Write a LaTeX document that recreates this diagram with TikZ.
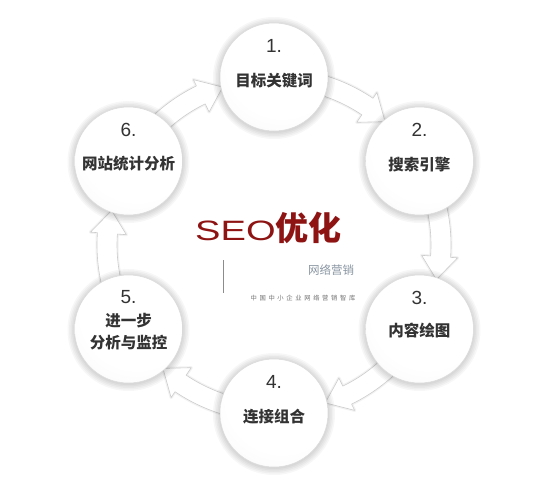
\documentclass[tikz,border=0pt]{standalone}
\usepackage{fontspec}
\setmainfont{Liberation Sans}
\newfontfamily\cjk{Noto Sans CJK SC}
\newfontfamily\cjksp{Noto Sans CJK SC}[LetterSpace=42]
\definecolor{txt}{HTML}{333333}
\definecolor{seored}{HTML}{8E1414}
\definecolor{subgray}{HTML}{8A96A3}
\pgfdeclareradialshading{sphere}{\pgfpoint{6bp}{12bp}}{%
  color(0bp)=(white); color(26bp)=(white); color(46bp)=(black!4);
  color(56bp)=(black!8); color(70bp)=(black!10)}
\tikzset{
  ball/.style={circle, minimum size=108pt, inner sep=0pt, shading=sphere,
    draw=black!14, line width=0.5pt},
  glow/.style={fill=black, opacity=0.03},
  num/.style={font=\fontsize{19}{20}\selectfont, text=txt, inner sep=0pt},
  lbl/.style={font=\cjk\bfseries\fontsize{15.5}{22}\selectfont, text=txt, inner sep=0pt, align=center},
  ringarrow/.style={fill=white, draw=black!20, line width=0.6pt, line join=round},
  ringhalo/.style={draw=black!5, line width=3pt, line join=round}
}
\newcommand\arrowpath[3]{([shift={(C)}]#1:177) arc[start angle=#1, end angle=#2, radius=177]
    -- ([shift={(C)}]#2:184) -- ([shift={(C)}]#3:166) -- ([shift={(C)}]#2:148)
    -- ([shift={(C)}]#2:157) arc[start angle=#2, end angle=#1, radius=157] -- cycle}
\newcommand\ringarrow[3]{%
  \path[ringhalo] \arrowpath{#1}{#2}{#3};
  \path[ringarrow] \arrowpath{#1}{#2}{#3};}
\begin{document}
\begin{tikzpicture}[x=1pt, y=1pt]
\useasboundingbox[fill=white] (0,0) rectangle (543,491);
\coordinate (C) at (274,246);
% arrows (drawn first, circles cover their tails)
\ringarrow{80}{56}{48}
\ringarrow{20}{-4}{-12}
\ringarrow{-40}{-64}{-72}
\ringarrow{-100}{-124}{-132}
\ringarrow{200}{176}{168}
\ringarrow{140}{116}{108}
% glow under the circles
\foreach \a in {90,30,-30,-90,210,150}{
  \foreach \r in {55,56.5,58,59.5,61}{
    \fill[glow] ([shift={(C)},yshift=-1pt]\a:168) circle[radius=\r];
  }
}
% circles
\node[ball] (c1) at ([shift={(C)}]90:168) {};
\node[ball] (c2) at ([shift={(C)}]30:168) {};
\node[ball] (c3) at ([shift={(C)}]-30:168) {};
\node[ball] (c4) at ([shift={(C)}]-90:168) {};
\node[ball] (c5) at ([shift={(C)}]210:168) {};
\node[ball] (c6) at ([shift={(C)}]150:168) {};
% texts
\node[num] (n1) at ([yshift=31pt]c1.center) {1.};
\node[lbl] (l1) at ([yshift=-4pt]c1.center) {目标关键词};
\node[num] (n2) at ([yshift=31pt]c2.center) {2.};
\node[lbl] (l2) at ([yshift=-4pt]c2.center) {搜索引擎};
\node[num] (n3) at ([yshift=31pt]c3.center) {3.};
\node[lbl] (l3) at ([yshift=-2pt]c3.center) {内容绘图};
\node[num] (n4) at ([yshift=31pt]c4.center) {4.};
\node[lbl] (l4) at ([yshift=-4pt]c4.center) {连接组合};
\node[num] (n5) at ([yshift=32pt]c5.center) {5.};
\node[lbl] (l5) at ([yshift=-3pt]c5.center) {进一步\\分析与监控};
\node[num] (n6) at ([yshift=31pt]c6.center) {6.};
\node[lbl] (l6) at ([yshift=-3pt]c6.center) {网站统计分析};
% centre title
\node[anchor=base west, inner sep=0pt, text=seored] (title) at (195,251)
  {\scalebox{1.36}[1]{\fontsize{28}{28}\selectfont SEO}{\cjk\bfseries\fontsize{33}{33}\selectfont 优化}};
\coordinate (la) at (223,231);
\coordinate (lb) at (223,198);
\draw[black!45, line width=0.6pt] (la) -- (lb);
\node[text=subgray, font=\cjk\fontsize{11.5}{12}\selectfont, inner sep=0pt] (sub) at (331,221) {网络营销};
\node[text=black!55, font=\cjksp\fontsize{6.3}{7}\selectfont, inner sep=0pt] (small) at (303,193) {中国中小企业网络营销智库};
\end{tikzpicture}
\end{document}
